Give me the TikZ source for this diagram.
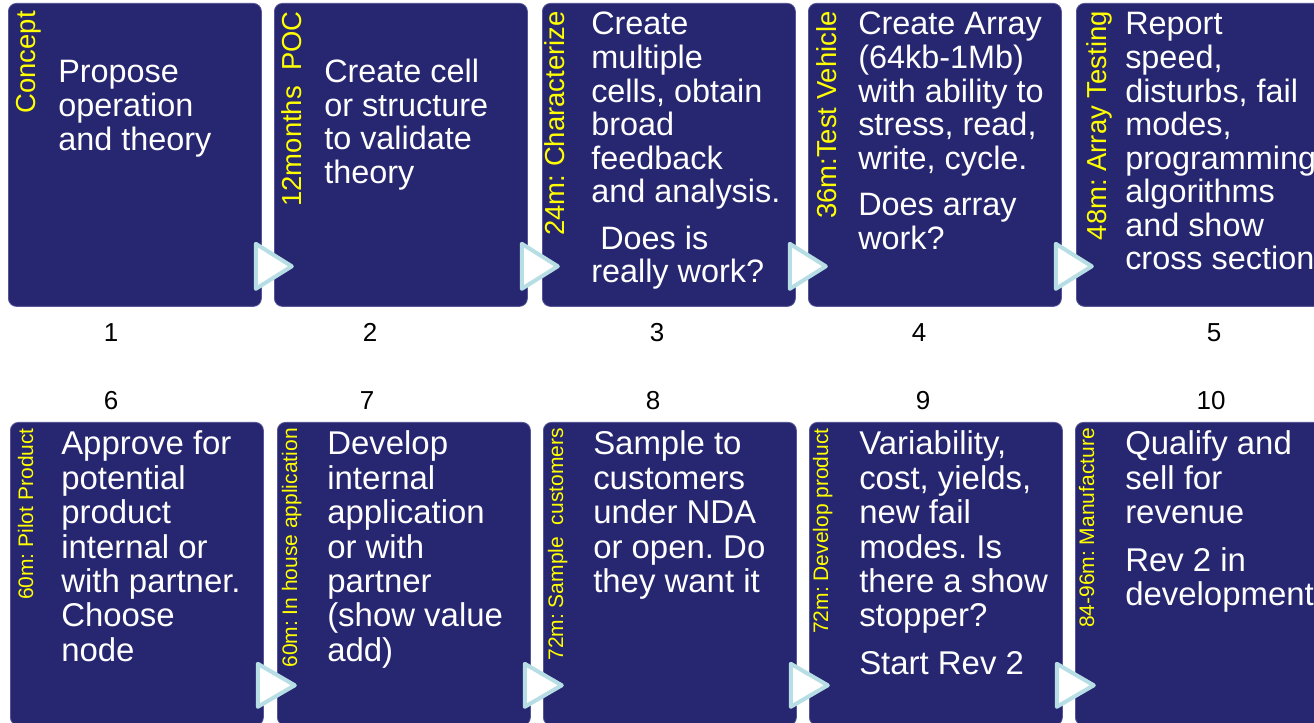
\documentclass[tikz,border=0pt]{standalone}
\usepackage{fontspec}
\setmainfont{Liberation Sans}
\usetikzlibrary{calc}
\definecolor{stagenavy}{RGB}{39,38,112}
\definecolor{stageedge}{RGB}{86,86,150}
\definecolor{flowcyan}{RGB}{183,222,228}
\definecolor{tagyellow}{RGB}{255,255,0}
\frenchspacing
% left-aligned lines whose baseline is that of the first line
\newcommand\steplines[1]{\begin{tabular}[t]{@{}l@{}}#1\end{tabular}}

\begin{document}
\begin{tikzpicture}[x=0.75pt,y=-0.75pt,
  stagebox/.style={draw=stageedge, line width=0.6pt, fill=stagenavy,
    rounded corners=6pt, anchor=north west, minimum width=189.75pt,
    minimum height=227.25pt, inner sep=0pt},
  toptext/.style={anchor=base west, inner sep=0pt, text=white,
    font=\fontsize{24.3}{25.1}\selectfont},
  lowtext/.style={anchor=base west, inner sep=0pt, text=white,
    font=\fontsize{24.7}{25.8}\selectfont},
  toptag/.style={anchor=base east, rotate=90, inner sep=0pt, text=tagyellow,
    font=\fontsize{20.6}{24}\selectfont},
  lowtag/.style={anchor=base east, rotate=90, inner sep=0pt, text=tagyellow,
    font=\fontsize{15.75}{18}\selectfont},
  stepnum/.style={anchor=base, inner sep=0pt, text=black,
    font=\fontsize{19.5}{22}\selectfont},
  flowtri/.style={draw=flowcyan, fill=white, line width=3pt, line join=round}]

\useasboundingbox (0,0) rectangle (1314,723);
\fill[white] (0,0) rectangle (1314,723);
\clip (0,0) rectangle (1314,723);

% stage boxes, upper row
\node[stagebox] (b1) at (8,3) {};
\node[stagebox] (b2) at (274,3) {};
\node[stagebox] (b3) at (542,3) {};
\node[stagebox] (b4) at (808,3) {};
\node[stagebox] (b5) at (1076,3) {};
% stage boxes, lower row
\node[stagebox] (b6) at (10,422) {};
\node[stagebox] (b7) at (277,422) {};
\node[stagebox] (b8) at (543,422) {};
\node[stagebox] (b9) at (809,422) {};
\node[stagebox] (b10) at (1075,422) {};

% flow triangles between neighbouring stages
\foreach \s in {b1,b2,b3,b4}
  \draw[flowtri] ($(\s.south east)+(-6,-63)$) -- ++(0,45) -- ++(36,-22.5) -- cycle;
\foreach \s in {b6,b7,b8,b9}
  \draw[flowtri] ($(\s.south east)+(-6,-62)$) -- ++(0,43) -- ++(37,-21.5) -- cycle;

% vertical stage tags
\node[toptag] (g1) at (35,11) {Concept};
\node[toptag] (g2) at (301,11) {12months\ \ POC};
\node[toptag] (g3) at (564,11) {24m: Characterize};
\node[toptag] (g4) at (836,11) {36m:Test Vehicle};
\node[toptag] (g5) at (1106,11) {48m: Array Testing};
\node[lowtag] (g6) at (33,428) {60m: Pilot Product};
\node[lowtag] (g7) at (297,428) {60m: In house application};
\node[lowtag] (g8) at (563,428) {72m: Sample\ \ customers};
\node[lowtag] (g9) at (828,428) {72m: Develop product};
\node[lowtag] (g10) at (1094,428) {84-96m: Manufacture};

% stage descriptions
\node[toptext] (d1) at (58,83) {\steplines{Propose\\operation\\and theory}};
\node[toptext] (d2) at (324,83) {\steplines{Create cell\\or structure\\to validate\\theory}};
\node[toptext] (d3) at (591,35) {\steplines{Create\\multiple\\cells, obtain\\broad\\feedback\\and analysis.\\[10pt]\ Does is\\really work?}};
\node[toptext] (d4) at (858,35) {\steplines{Create Array\\(64kb-1Mb)\\with ability to\\stress, read,\\write, cycle.\\[10pt]Does array\\work?}};
\node[toptext] (d5) at (1125,35) {\steplines{Report\\speed,\\disturbs, fail\\modes,\\programming\\algorithms\\and show\\cross section}};
\node[lowtext] (d6) at (61,455) {\steplines{Approve for\\potential\\product\\internal or\\with partner.\\Choose\\node}};
\node[lowtext] (d7) at (327,455) {\steplines{Develop\\internal\\application\\or with\\partner\\(show value\\add)}};
\node[lowtext] (d8) at (593,455) {\steplines{Sample to\\customers\\under NDA\\or open. Do\\they want it}};
\node[lowtext] (d9) at (859,455) {\steplines{Variability,\\cost, yields,\\new fail\\modes. Is\\there a show\\stopper?\\[10pt]Start Rev 2}};
\node[lowtext] (d10) at (1125,455) {\steplines{Qualify and\\sell for\\revenue\\[10pt]Rev 2 in\\development}};

% step numbers
\node[stepnum] (n1) at (111,342) {1};
\node[stepnum] (n2) at (370,342) {2};
\node[stepnum] (n3) at (657,342) {3};
\node[stepnum] (n4) at (919,342) {4};
\node[stepnum] (n5) at (1214,342) {5};
\node[stepnum] (n6) at (111,410) {6};
\node[stepnum] (n7) at (367,410) {7};
\node[stepnum] (n8) at (653,410) {8};
\node[stepnum] (n9) at (923,410) {9};
\node[stepnum] (n10) at (1211,410) {10};
\end{tikzpicture}
\end{document}
